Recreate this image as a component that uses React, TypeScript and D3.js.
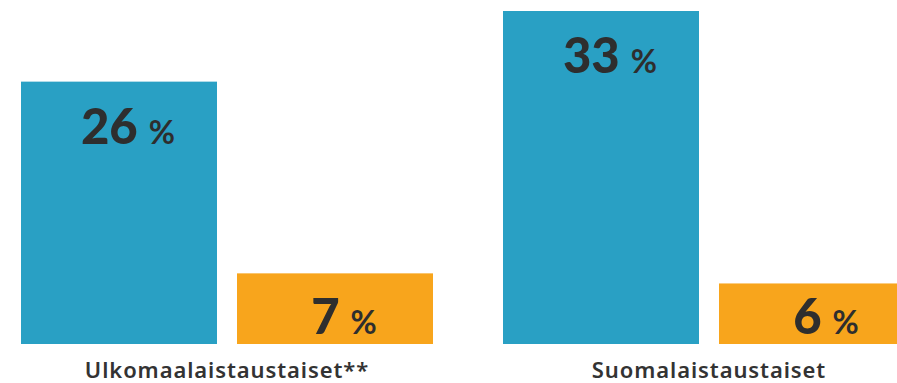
import React from "react";
import * as d3 from "d3";

const groups = ["Ulkomaalaistaustaiset**", "Suomalaistaustaiset"];
const seriesNames = ["A", "B"];
const seriesA = [26, 33];
const seriesB = [7, 6];
const colors = ["#29a0c4", "#f8a51c"];

const W = 897;
const H = 383;

export default function App() {
  const y = d3.scaleLinear().domain([0, 33]).range([344, 11]);
  const x0 = d3.scaleBand<string>().domain(groups).range([21, 915]).paddingInner(70 / 482).paddingOuter(0);
  const x1 = d3.scaleBand<string>().domain(seriesNames).range([0, x0.bandwidth()]).paddingInner(20 / 216).paddingOuter(0);
  const values = [seriesA, seriesB];

  return (
    <svg width={W} height={H} style={{ position: "fixed", left: 0, top: 0, display: "block", background: "#fff" }}>
      {groups.map((g, gi) => (
        <g key={g} transform={`translate(${x0(g)},0)`}>
          {seriesNames.map((s, si) => {
            const v = values[si][gi];
            const bx = x1(s)!;
            const bw = x1.bandwidth();
            const top = y(v);
            const ly = Math.min(top + 62, y(0) - 10);
            return (
              <g key={s}>
                <rect x={bx} y={top} width={bw} height={y(0) - top} fill={colors[si]} />
                <text
                  x={bx + bw / 2 + 9}
                  y={ly}
                  textAnchor="middle"
                  fill="#2e2e2e"
                  fontFamily="Lato, 'Open Sans', sans-serif"
                >
                  <tspan fontSize={49} fontWeight={900}>{v}</tspan>
                  <tspan fontSize={32} fontWeight={700} dx={11}>%</tspan>
                </text>
              </g>
            );
          })}
          <text
            x={x0.bandwidth() / 2}
            y={378}
            textAnchor="middle"
            fill="#333"
            fontFamily="'Noto Sans', 'Open Sans', sans-serif"
            fontWeight={600}
            fontSize={22}
            letterSpacing={0.9}
          >
            {g}
          </text>
        </g>
      ))}
    </svg>
  );
}
